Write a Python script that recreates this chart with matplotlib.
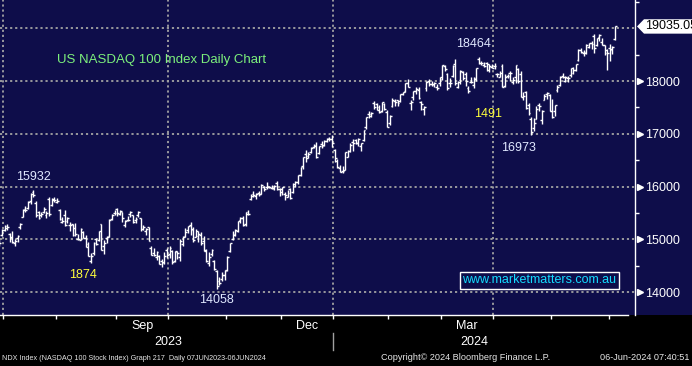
import matplotlib
matplotlib.use('Agg')
import matplotlib.pyplot as plt
import matplotlib.transforms as mtransforms
from matplotlib.patches import Polygon, Rectangle
import numpy as np
import pandas as pd

# NYSE holidays inside the range, trading days only on the x axis
holidays = ['2023-07-04', '2023-09-04', '2023-11-23', '2023-12-25', '2024-01-01',
            '2024-01-15', '2024-02-19', '2024-03-29', '2024-05-27']
dates = pd.bdate_range('2023-06-29', '2024-06-05', freq='C', holidays=holidays)

opens = [
    14990, 15090,
    15180, 15220, 15110, 15030, 14930, 15020, 15240, 15430, 15570, 15590, 15720, 15900, 15700, 15520, 15460, 15530, 15460, 15770, 15650, 15770,
    15710, 15560, 15340, 15460, 15350, 15280, 15300, 15220, 15010, 14990, 15150, 15020, 14910, 14590, 14750, 15000, 14990, 15290, 14880, 15020, 15060, 15380, 15510,
    15580, 15480, 15520, 15270, 15360, 15480, 15460, 15370, 15470, 15410, 15200, 15160, 15230, 14840, 14740, 14660, 14690, 14600, 14550, 14810,
    14720, 14790, 14600, 14760, 14660, 14910, 15060, 15180, 15270, 15200, 15050, 15060, 15080, 14980, 14790, 14560, 14730, 14590, 14400, 14220, 14250, 14330,
    14420, 14790, 15010, 15080, 15160, 15370, 15410, 15290, 15490, 15770, 15870, 15830, 15890, 15870, 15990, 15990, 16000, 15980, 15960, 16070, 15960,
    15900, 15870, 15810, 15960, 15900, 16010, 16080, 16220, 16390, 16620, 16590, 16650, 16760, 16790, 16640, 16800, 16790, 16870, 16920, 16900,
    16690, 16480, 16350, 16290, 16310, 16570, 16680, 16850, 16880, 16820, 16770, 16890, 17140, 17370, 17370, 17580, 17560, 17460, 17430, 17560, 17410,
    17200, 17530, 17620, 17640, 17620, 17750, 17820, 17960, 17590, 17700, 17820, 17830, 17600, 17480, 17860, 18010, 17940, 17940, 17890, 17960,
    18070, 18290, 18140, 17970, 18090, 18320, 17880, 18020, 18170, 18130, 17860, 17980, 17920, 18040, 18420, 18350, 18310, 18340, 18320, 18270,
    18280, 18140, 18080, 18290, 17900, 18090, 18160, 17980, 18070, 18220, 18130, 17700, 17800, 17550, 17280, 17120, 17290, 17550, 17260, 17650, 17760, 17740,
    17440, 17440, 17840, 17920, 18100, 18000, 18060, 18110, 18240, 18210, 18400, 18580, 18540, 18530, 18640, 18730, 18860, 18680, 18830, 18740, 18680, 18590,
    18630, 18590, 18790,
]
highs = [
    15010, 15200,
    15280, 15300, 15120, 15170, 15000, 15080, 15320, 15580, 15630, 15730, 15890, 15930, 15730, 15540, 15530, 15610, 15540, 15800, 15780, 15800,
    15780, 15570, 15430, 15560, 15420, 15330, 15300, 15310, 15110, 15210, 15160, 15080, 14960, 14740, 14950, 15020, 15160, 15300, 14990, 15070, 15380, 15480, 15550,
    15590, 15560, 15530, 15360, 15440, 15540, 15470, 15420, 15540, 15410, 15280, 15210, 15240, 14880, 14830, 14780, 14700, 14640, 14760, 14840,
    14870, 14800, 14790, 14780, 15000, 15060, 15210, 15260, 15330, 15230, 15190, 15170, 15150, 15060, 14820, 14760, 14820, 14610, 14420, 14290, 14390, 14420,
    14690, 14940, 15160, 15200, 15350, 15420, 15450, 15530, 15560, 15870, 15920, 15880, 15910, 16060, 16010, 16090, 16020, 16030, 16030, 16110, 15980,
    16000, 15900, 15930, 15980, 16070, 16110, 16230, 16370, 16560, 16700, 16660, 16760, 16800, 16850, 16780, 16860, 16890, 16920, 16940, 16970,
    16720, 16530, 16420, 16390, 16650, 16700, 16820, 16910, 16900, 16930, 16830, 17080, 17320, 17430, 17410, 17630, 17580, 17540, 17600, 17580, 17460,
    17360, 17680, 17660, 17650, 17760, 17800, 17970, 18040, 17650, 17810, 17880, 17880, 17630, 17520, 18000, 18040, 18000, 17990, 17940, 18070,
    18310, 18310, 18160, 18050, 18300, 18420, 18000, 18210, 18190, 18170, 17900, 18080, 18080, 18250, 18465, 18390, 18360, 18370, 18330, 18320,
    18350, 18160, 18190, 18330, 18140, 18140, 18200, 18080, 18310, 18250, 18190, 17790, 17810, 17590, 17320, 17300, 17520, 17580, 17460, 17750, 17790, 17760,
    17660, 17550, 17920, 18090, 18160, 18090, 18100, 18240, 18260, 18330, 18600, 18620, 18580, 18700, 18720, 18760, 18890, 18820, 18900, 18820, 18690, 18600,
    18700, 18670, 19040,
]
lows = [
    14880, 15070,
    15170, 15180, 14960, 14940, 14880, 14960, 15200, 15420, 15520, 15580, 15680, 15800, 15420, 15380, 15420, 15510, 15400, 15450, 15640, 15710,
    15690, 15360, 15320, 15260, 15320, 15160, 15060, 15070, 14990, 14990, 15020, 14860, 14690, 14560, 14710, 14900, 14970, 14810, 14720, 14930, 15040, 15360, 15460,
    15440, 15470, 15330, 15240, 15350, 15420, 15320, 15320, 15420, 15170, 15180, 15080, 14980, 14700, 14690, 14620, 14530, 14480, 14530, 14650,
    14650, 14540, 14580, 14640, 14590, 14880, 15050, 15120, 15090, 14950, 15040, 14960, 14900, 14780, 14580, 14500, 14680, 14420, 14060, 14130, 14220, 14240,
    14410, 14760, 14990, 15060, 15140, 15310, 15260, 15260, 15460, 15740, 15800, 15770, 15820, 15860, 15920, 15960, 15970, 15950, 15930, 15940, 15830,
    15850, 15740, 15800, 15770, 15890, 15990, 16050, 16200, 16340, 16470, 16550, 16630, 16730, 16550, 16610, 16730, 16780, 16850, 16870, 16760,
    16460, 16350, 16270, 16250, 16310, 16560, 16660, 16680, 16800, 16780, 16680, 16860, 17090, 17310, 17320, 17480, 17450, 17400, 17410, 17450, 17140,
    17170, 17510, 17530, 17530, 17600, 17740, 17800, 17880, 17450, 17650, 17750, 17660, 17450, 17360, 17820, 17900, 17910, 17880, 17840, 17900,
    18030, 18200, 17830, 17890, 18080, 17930, 17860, 17950, 18030, 17910, 17780, 17960, 17860, 18010, 18330, 18310, 18260, 18200, 18180, 18240,
    18220, 18070, 18070, 17880, 17880, 18060, 18010, 17940, 17960, 17960, 17690, 17650, 17480, 17350, 16975, 17050, 17280, 17430, 17180, 17640, 17660, 17440,
    17310, 17340, 17790, 17900, 18050, 17990, 17990, 18070, 18130, 18200, 18380, 18530, 18480, 18520, 18630, 18600, 18530, 18670, 18760, 18690, 18500, 18210,
    18390, 18520, 18780,
]
closes = [
    14940, 15180,
    15260, 15240, 15040, 14945, 14970, 15060, 15290, 15565, 15565, 15710, 15865, 15840, 15460, 15410, 15475, 15585, 15505, 15475, 15755, 15755,
    15735, 15380, 15345, 15275, 15410, 15270, 15085, 15100, 15010, 15205, 15035, 14865, 14695, 14695, 14940, 14915, 15155, 14810, 14940, 15045, 15365, 15465, 15500,
    15495, 15540, 15405, 15345, 15375, 15520, 15335, 15395, 15515, 15200, 15230, 15190, 14980, 14700, 14700, 14770, 14545, 14575, 14695, 14715,
    14835, 14565, 14775, 14735, 14975, 15050, 15140, 15250, 15185, 14995, 15170, 15100, 14930, 14805, 14590, 14670, 14805, 14445, 14110, 14180, 14335, 14410,
    14665, 14930, 15100, 15185, 15345, 15400, 15275, 15530, 15480, 15820, 15840, 15870, 15860, 16040, 15960, 16010, 15990, 15980, 16010, 15960, 15950,
    15990, 15840, 15880, 15780, 16060, 16085, 16230, 16370, 16555, 16545, 16625, 16730, 16780, 16555, 16770, 16775, 16870, 16905, 16900, 16825,
    16545, 16370, 16280, 16305, 16650, 16680, 16790, 16835, 16830, 16905, 16820, 17065, 17315, 17330, 17405, 17500, 17515, 17420, 17595, 17475, 17140,
    17345, 17640, 17605, 17580, 17755, 17785, 17960, 17880, 17600, 17810, 17845, 17685, 17570, 17510, 17990, 17940, 17920, 17960, 17875, 18045,
    18300, 18230, 17875, 17970, 18290, 17960, 17980, 18195, 18055, 18010, 17810, 17985, 18060, 18250, 18340, 18340, 18280, 18210, 18280, 18255,
    18290, 18125, 18160, 17880, 18085, 18090, 18155, 18015, 18305, 18000, 17705, 17710, 17495, 17395, 17040, 17210, 17470, 17525, 17430, 17720, 17780, 17440,
    17320, 17540, 17890, 18085, 18070, 18070, 18065, 18160, 18210, 18320, 18590, 18545, 18545, 18675, 18715, 18705, 18620, 18810, 18870, 18680, 18540, 18540,
    18610, 18640, 19035.05,
]

# swing highs / lows marked on the chart
swing_dates = ['2023-07-19', '2023-10-26', '2024-03-21', '2024-04-19']
swing_values = [15932, 14058, 18464, 16973]

navy = '#0e0d4a'
plt.rcParams['font.family'] = ['Liberation Sans', 'DejaVu Sans']

fig = plt.figure(figsize=(6.92, 3.66), dpi=100, facecolor='black')
fig.add_artist(Rectangle((635 / 692, 51 / 366), 57 / 692, 315 / 366, transform=fig.transFigure,
                         fc=navy, ec='none', zorder=0))
ax = fig.add_axes([0, 51 / 366, 635 / 692, 315 / 366], facecolor=navy)

x = np.arange(len(dates))
tw = 0.7
ax.vlines(x, lows, highs, color='white', lw=1.0, zorder=3)
ax.hlines(opens, x - tw, x, color='white', lw=1.0, zorder=3)
ax.hlines(closes, x, x + tw, color='white', lw=1.0, zorder=3)

# month boundaries
starts = np.where(dates.month[1:] != dates.month[:-1])[0] + 1
bounds = starts - 0.5
grid_kw = dict(color='#a3a3a3', lw=1.3, ls=(0, (1.2, 1.6)), zorder=1)
for v in range(14000, 19001, 1000):
    ax.axhline(v, **grid_kw)
for s in starts:
    if dates[s].month in (1, 4, 7, 10):
        ax.axvline(s - 0.5, **grid_kw)

ax.set_xticks(bounds)
ax.set_xticklabels([])
lab_pos, lab_txt = [], []
for i, s in enumerate(starts[:-1]):
    if dates[s].month in (9, 12, 3):
        lab_pos.append((s + starts[i + 1]) / 2 - 0.5)
        lab_txt.append(dates[s].strftime('%b'))
ax.set_xticks(lab_pos, lab_txt, minor=True)
ax.tick_params(axis='x', which='major', length=3, width=1, color='white', direction='out')
ax.tick_params(axis='x', which='minor', length=0, pad=3.5, labelcolor='white', labelsize=9)

ax.yaxis.tick_right()
yt = [14000, 15000, 16000, 17000, 18000]
ax.set_yticks(yt)
ax.set_yticks([14500, 15500, 16500, 17500, 18500, 19500], minor=True)
ax.tick_params(axis='y', which='major', length=0, pad=7.5, labelcolor='white', labelsize=9)
ax.tick_params(axis='y', which='minor', length=3, width=1, color='white', direction='out')

for sp in ['top', 'left']:
    ax.spines[sp].set_visible(False)
ax.spines['right'].set_color('white')
ax.spines['bottom'].set_color('white')
ax.spines['right'].set_linewidth(1)
ax.spines['bottom'].set_linewidth(1)

xl = (0.27, 242.6)
ax.set_xlim(*xl)
ax.set_ylim(13570, 19536)
ax.spines['bottom'].set_bounds(xl[0], 240.0)

# triangles in front of the price labels
tri = mtransforms.blended_transform_factory(fig.transFigure, ax.transData)
fig.add_artist(plt.Line2D([639.5 / 692] * len(yt), yt, ls='none', marker='>', ms=4.5,
                          color='white', transform=tri))

# last price tag
last = closes[-1]
anchor = mtransforms.ScaledTranslation(1.0, last, mtransforms.blended_transform_factory(ax.transAxes, ax.transData))
tag_tr = fig.dpi_scale_trans + anchor
fig.add_artist(Polygon([(0.02, 0), (0.09, 0.072), (0.8, 0.072), (0.8, -0.072), (0.09, -0.072)],
                       closed=True, fc='white', ec='none', transform=tag_tr, zorder=2))
fig.add_artist(plt.Text(0.1, 0, f'{last:.2f}', transform=tag_tr, ha='left', va='center',
                        fontsize=9, color='black', zorder=3))

# swing labels
lab_col = '#e0e8ff'
offs = [(0, 9.6), (0, -7.8), (-4.1, 9.1), (-9.4, -9.1)]
for d, v, o in zip(swing_dates, swing_values, offs):
    k = dates.get_loc(pd.Timestamp(d))
    ax.annotate(f'{v}', xy=(k, v), xytext=o, textcoords='offset points', ha='center', va='center',
                fontsize=9, color=lab_col)
ax.text(82.5 / 635, 1 - 275 / 315, f'{swing_values[0] - swing_values[1]}', transform=ax.transAxes,
        ha='center', va='center', fontsize=9, color='#ffff3c')
ax.text(488.5 / 635, 1 - 114 / 315, f'{swing_values[2] - swing_values[3]}', transform=ax.transAxes,
        ha='center', va='center', fontsize=9, color='#ffff3c')

ax.text(57 / 635, 1 - 60.5 / 315, 'US NASDAQ 100 Index Daily Chart', transform=ax.transAxes,
        ha='left', va='center', fontsize=9.5, color='#7cf07c')
ax.text(539.5 / 635, 1 - 280 / 315, 'www.marketmatters.com.au', transform=ax.transAxes,
        ha='center', va='center', fontsize=9, color='#14dcff', zorder=5,
        bbox=dict(boxstyle='square,pad=0.2', fc=navy, ec='white', lw=1))

# years under the month labels
yr = mtransforms.blended_transform_factory(ax.transData, fig.transFigure)
jan = [s for s in starts if dates[s].month == 1][0]
ax.text((starts[0] - 0.5 + jan - 0.5) / 2, 1 - 341.7 / 366, '2023', transform=yr,
        ha='center', va='center', color='white', fontsize=9)
ax.text((jan - 0.5 + x[-1]) / 2, 1 - 341.7 / 366, '2024', transform=yr,
        ha='center', va='center', color='white', fontsize=9)
ax.plot([jan - 0.5, jan - 0.5], [1 - 333 / 366, 1 - 350 / 366], transform=yr, color='#a0a0a0',
        lw=1, clip_on=False)

fy = 1 - 358 / 366
fkw = dict(color='#e6e6e6', va='center')
fig.text(2 / 692, fy, 'NDX Index (NASDAQ 100 Stock Index) Graph 217  Daily 07JUN2023-06JUN2024',
         ha='left', fontsize=5.2, **fkw)
fig.text(381 / 692, fy, 'Copyright© 2024 Bloomberg Finance L.P.', ha='left', fontsize=6.6, **fkw)
fig.text(690 / 692, fy, '06-Jun-2024 07:40:51', ha='right', fontsize=6.6, **fkw)

fig.savefig('out.png', dpi=100, facecolor=fig.get_facecolor())
